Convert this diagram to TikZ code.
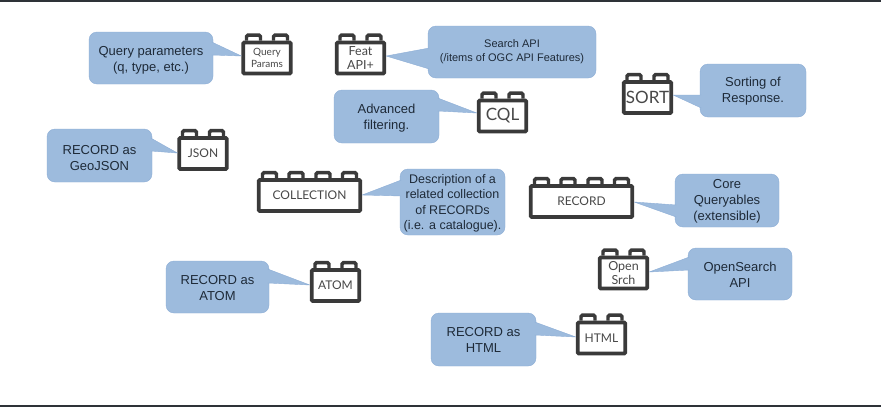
\documentclass[tikz,border=0pt]{standalone}
\usepackage{xcolor}
\usepackage{fontspec}
\setmainfont{Liberation Sans}
\newfontfamily\brickfont{Lato}
\newcommand{\droptext}[1]{\rule{0pt}{#1pt}}
\definecolor{callfill}{HTML}{9DBBDD}
\definecolor{calledge}{HTML}{8DAED6}
\definecolor{calltext}{HTML}{1E2A38}
\definecolor{brickline}{HTML}{3A3A3A}
\definecolor{bricktext}{HTML}{484848}
\definecolor{screenbar}{HTML}{2E3238}

\begin{document}
\begin{tikzpicture}[
  x=1pt, y=-1pt,
  callbox/.style={draw=calledge, fill=callfill, rounded corners=8pt, align=center, text=calltext,
                  inner sep=0pt, font=\fontsize{13}{16}\selectfont},
  tail/.style={draw=calledge, fill=callfill, line join=round},
  brick/.style={draw=brickline, fill=white, line width=3.8pt, rounded corners=1pt, align=center,
                text=bricktext, inner sep=0pt, minimum height=31pt, minimum width=47.5pt,
                font=\brickfont\fontsize{12}{14}\selectfont},
  wide/.style={minimum width=101.5pt},
  stud/.style={draw=brickline, line width=3.4pt, rounded corners=1.5pt}
]
% page
\path[fill=white] (0,0) rectangle (881,407);
\fill[screenbar] (0,0) rectangle (881,2);
\fill[screenbar] (0,405) rectangle (881,407);

% bricks
\node[brick, font=\brickfont\fontsize{10}{11.5}\selectfont] (query) at (267,58) {Query\\Params};
\node[brick, font=\brickfont\fontsize{12.5}{14}\selectfont] (feat) at (360.5,58) {Feat\\API+};
\node[brick] (json) at (203,153.5) {JSON};
\node[brick, font=\brickfont\fontsize{17}{20}\selectfont] (cql) at (502.5,116) {CQL};
\node[brick, font=\brickfont\fontsize{17}{20}\selectfont] (sort) at (647.5,97.5) {SORT};
\node[brick, wide] (collection) at (309.5,195.5) {COLLECTION};
\node[brick, wide] (record) at (581.5,201.5) {RECORD};
\node[brick] (atom) at (335.5,285.5) {ATOM};
\node[brick, font=\brickfont\fontsize{12.5}{14}\selectfont] (opensrch) at (623.5,273) {Open\\Srch};
\node[brick] (html) at (601.5,338) {HTML};

\foreach \b in {query, feat, json, cql, sort, atom, opensrch, html}
  \foreach \dx in {-13.5pt, 13.5pt}
    \draw[stud] ([xshift=\dx-7pt]\b.north) -- ++(0,-5.5) -- ++(14,0) -- ++(0,5.5);
\foreach \b in {collection, record}
  \foreach \dx in {-40pt, -13.5pt, 13.5pt, 40pt}
    \draw[stud] ([xshift=\dx-7pt]\b.north) -- ++(0,-5.5) -- ++(14,0) -- ++(0,5.5);

% callouts
\node[callbox, minimum width=124pt, minimum height=52pt] (querycall) at (151,58) {\droptext{13.5}Query parameters\\(q, type, etc.)};
\node[callbox, minimum width=168pt, minimum height=52pt, font=\fontsize{11}{14}\selectfont] (featcall) at (512,52) {Search API\\(/items of OGC API Features)};
\node[callbox, minimum width=105pt, minimum height=53pt] (cqlcall) at (386.5,116.5) {\droptext{13.5}Advanced\\filtering.};
\node[callbox, minimum width=106pt, minimum height=53pt] (sortcall) at (753,90.5) {\droptext{11.5}Sorting of\\Response.};
\node[callbox, minimum width=105pt, minimum height=53pt] (jsoncall) at (99.5,155.5) {\droptext{13.5}RECORD as\\GeoJSON};
\node[callbox, minimum width=105pt, minimum height=66pt, font=\fontsize{12.5}{15.6}\selectfont] (collectioncall) at (452.5,202) {\droptext{11.5}Description of a\\related collection\\of RECORDs\\(i.e. a catalogue).};
\node[callbox, minimum width=104pt, minimum height=53pt] (recordcall) at (727,200.5) {\droptext{11.5}Core\\Queryables\\(extensible)};
\node[callbox, minimum width=104pt, minimum height=52pt] (opensrchcall) at (740,274) {\droptext{11.5}OpenSearch\\API};
\node[callbox, minimum width=103pt, minimum height=52pt] (atomcall) at (217.5,287) {\droptext{11.5}RECORD as\\ATOM};
\node[callbox, minimum width=105pt, minimum height=53pt] (htmlcall) at (483.5,339.5) {RECORD as\\HTML};

% tails: callout/side/brick/side/inset/upper/lower/tip
\foreach \c/\cs/\b/\bs/\ins/\up/\lo/\tip in {
    querycall/east/query/west/-1.5pt/16pt/3pt/2pt,
    jsoncall/east/json/west/-1.5pt/17.5pt/4.5pt/0.5pt,
    cqlcall/east/cql/west/-1.5pt/18.5pt/5.5pt/3pt,
    atomcall/east/atom/west/-1.5pt/18pt/4pt/0.5pt,
    htmlcall/east/html/west/-1.5pt/17.5pt/4.5pt/1pt,
    featcall/west/feat/east/1.5pt/4pt/-17pt/2pt,
    sortcall/west/sort/east/1.5pt/-4.5pt/-17.5pt/2.5pt,
    collectioncall/west/collection/east/1.5pt/22pt/6pt/0.5pt,
    recordcall/west/record/east/1.5pt/-4.5pt/-16.5pt/-0.5pt,
    opensrchcall/west/opensrch/east/1.5pt/17pt/4pt/1pt}
  \path[tail] ([xshift=\ins,yshift=\up]\c.\cs) -- ([yshift=\tip]\b.\bs) -- ([xshift=\ins,yshift=\lo]\c.\cs);
\end{tikzpicture}
\end{document}
